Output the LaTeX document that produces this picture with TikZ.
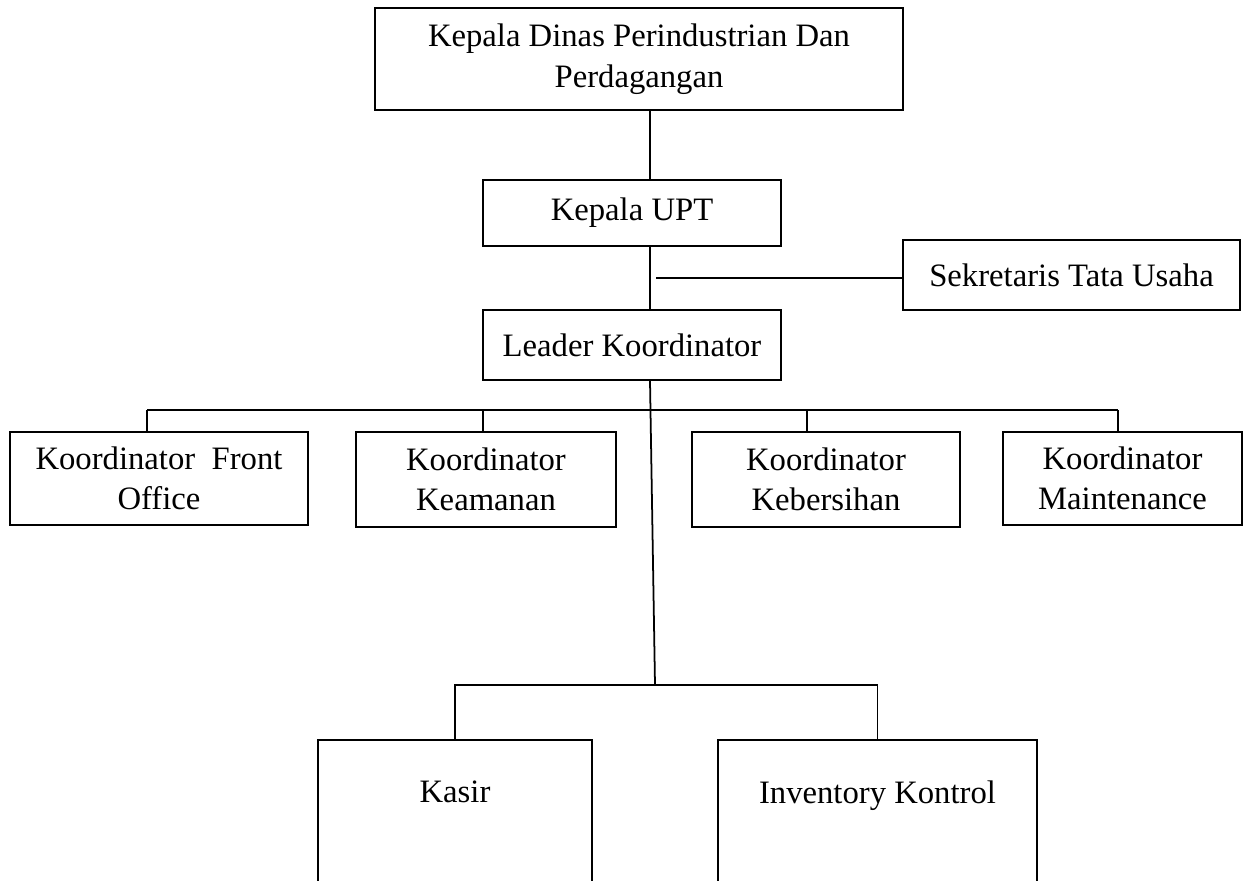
\documentclass[tikz,border=0pt]{standalone}
\usepackage{fontspec}
\setmainfont{Liberation Serif}
\begin{document}
\begin{tikzpicture}[x=0.02cm,y=-0.02cm,line width=1pt,
  kotak/.style={draw,inner sep=0pt,align=center,font=\fontsize{18.6}{23}\selectfont}]
  \useasboundingbox (0,0) rectangle (1250,880);

  % Head office and the UPT line.
  \node[kotak,minimum width=10.56cm,minimum height=2.04cm] (kadis) at (639,59) {Kepala Dinas Perindustrian Dan\\Perdagangan};
  \node[kotak,minimum width=5.96cm,minimum height=1.32cm] (upt) at (632,213) {Kepala UPT};
  \node[kotak,minimum width=6.74cm,minimum height=1.4cm] (sek) at (1071.5,275) {Sekretaris Tata Usaha};
  \node[kotak,minimum width=5.96cm,minimum height=1.4cm] (leader) at (632,345) {Leader Koordinator};
  \coordinate (stem) at (650,0);
  \coordinate (sekj) at (656,278);
  \draw (kadis.south -| stem) -- (upt.north -| stem);
  \draw (upt.south -| stem) -- (leader.north -| stem);
  \draw (sekj) -- (sekj -| sek.west);

  % Four coordinators on one bus.
  \node[kotak,minimum width=5.96cm,minimum height=1.86cm] (fo) at (159,478.5) {Koordinator~~Front\\Office};
  \node[kotak,minimum width=5.2cm,minimum height=1.9cm] (aman) at (486,479.5) {Koordinator\\Keamanan};
  \node[kotak,minimum width=5.36cm,minimum height=1.9cm] (bersih) at (826,479.5) {Koordinator\\Kebersihan};
  \node[kotak,minimum width=4.78cm,minimum height=1.86cm] (maint) at (1122.5,478.5) {Koordinator\\Maintenance};
  \foreach \n/\x in {fo/147,aman/483,bersih/807,maint/1118}{
    \coordinate (t\n) at (\x,410);
    \draw (t\n) -- (t\n |- \n.north);
  }
  \draw (tfo) -- (tmaint);

  % Kasir and inventory, hanging from the long stem.
  \node[kotak,minimum width=5.48cm,minimum height=2.88cm] (kasir) at (455,812) {Kasir\\~};
  \node[kotak,minimum width=6.38cm,minimum height=2.88cm] (inv) at (877.5,812) {Inventory Kontrol\\~};
  \coordinate (bawah) at (655,685);
  \draw (leader.south -| stem) -- (bawah);
  \draw (kasir.north) |- (bawah) -| (inv.north);
\end{tikzpicture}
\end{document}
